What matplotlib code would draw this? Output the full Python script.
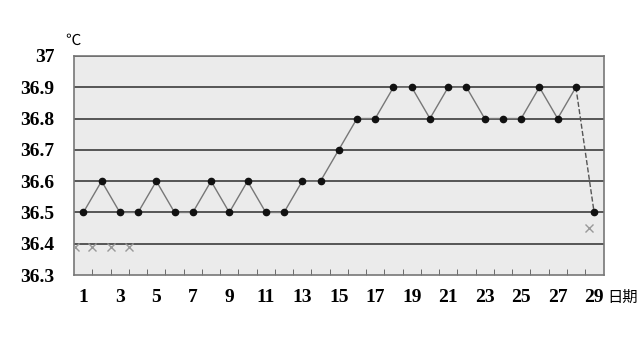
import matplotlib.pyplot as plt
import numpy as np

# basal body temperature, days 1-29
days = list(range(1, 30))
temps = [36.5, 36.6, 36.5, 36.5, 36.6, 36.5, 36.5, 36.6, 36.5, 36.6,
         36.5, 36.5, 36.6, 36.6, 36.7, 36.8, 36.8, 36.9, 36.9, 36.8,
         36.9, 36.9, 36.8, 36.8, 36.8, 36.9, 36.8, 36.9, 36.5]

# cross marks
cross_x = [0.55, 1.5, 2.5, 3.5, 28.7]
cross_y = [36.39, 36.39, 36.39, 36.39, 36.45]

y_ticks = [36.3, 36.4, 36.5, 36.6, 36.7, 36.8, 36.9, 37.0]
y_labels = ['36.3', '36.4', '36.5', '36.6', '36.7', '36.8', '36.9', '37']
x_ticks = list(range(1, 30, 2))

fig = plt.figure(figsize=(6.4, 3.54), dpi=100)
ax = fig.add_axes([0.116, 0.223, 0.828, 0.619])
ax.set_facecolor('#ebebeb')

for y in y_ticks[1:]:
    ax.axhline(y, color='#555555', lw=1.4, zorder=1)

ax.plot(days[:-1], temps[:-1], color='#777777', lw=1.0, zorder=2)
ax.plot(days[-2:], temps[-2:], color='#555555', lw=1.0, ls='--', zorder=2)
ax.plot(days, temps, 'o', color='#111111', ms=4.5, zorder=3)
ax.plot(cross_x, cross_y, 'x', color='#999999', ms=6, mew=1.0, zorder=3)

ax.set_xlim(0.5, 29.55)
ax.set_ylim(36.3, 37.0)

ax.set_yticks(y_ticks)
ax.set_yticklabels(y_labels, family='Liberation Serif', fontsize=14, fontweight='bold')
ax.tick_params(axis='y', length=0, pad=14)

ax.set_xticks(x_ticks)
ax.set_xticklabels([str(d) for d in x_ticks], family='Liberation Serif', fontsize=14, fontweight='bold')
ax.set_xticks(np.arange(1.5, 29, 1), minor=True)
ax.tick_params(axis='x', which='major', length=0, pad=10)
ax.tick_params(axis='x', which='minor', direction='in', length=4, color='#555555')

for s in ax.spines.values():
    s.set_color('#777777')
    s.set_linewidth(1.2)

fig.text(0.944 + 0.005, 0.16, '日期', family=['Noto Sans CJK SC', 'DejaVu Sans'], fontsize=11, va='center')
fig.text(0.102, 0.885, '℃', family=['Noto Sans CJK SC', 'DejaVu Sans'], fontsize=11, va='center')

fig.savefig('out.png', dpi=100)
